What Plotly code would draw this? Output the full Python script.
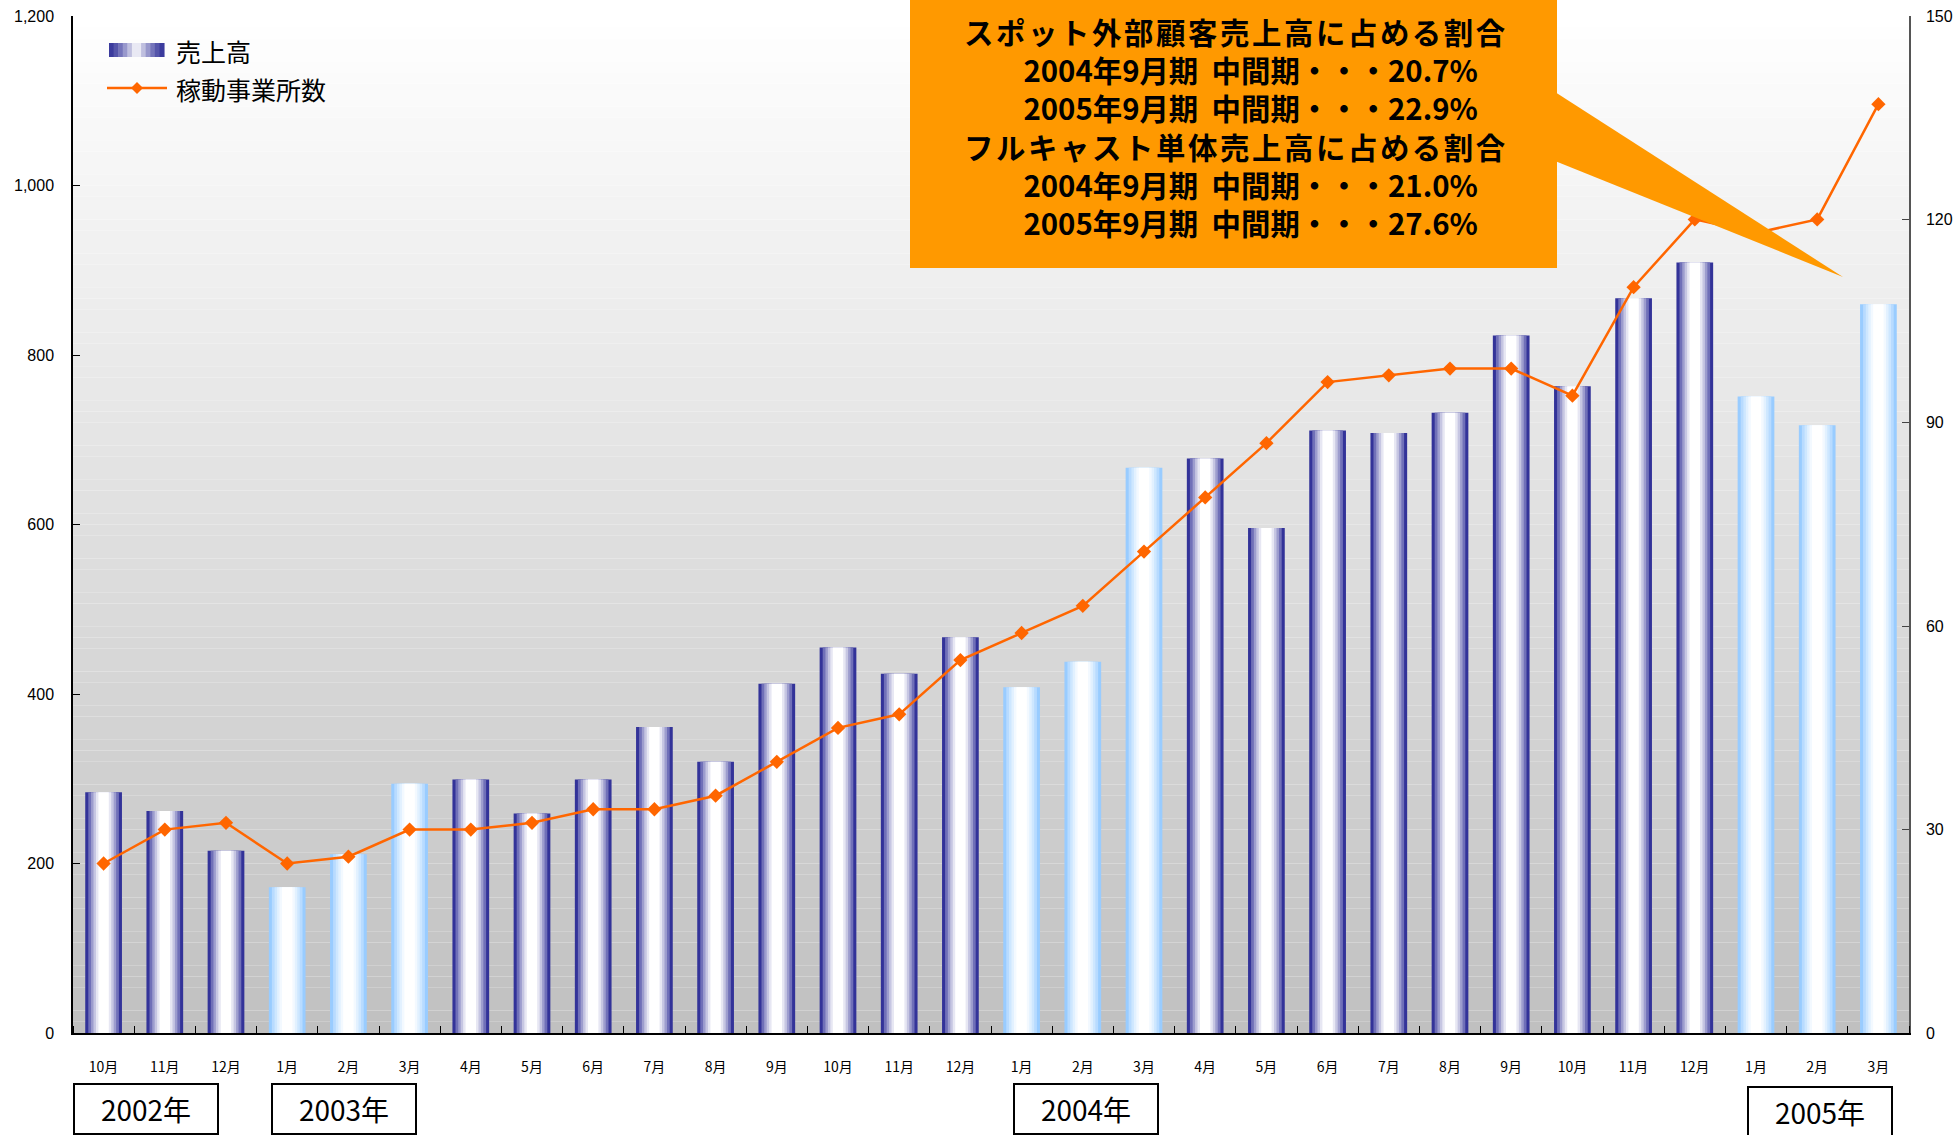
import plotly.graph_objects as go

# ---------------- data ----------------
months = ["10月", "11月", "12月", "1月", "2月", "3月", "4月", "5月", "6月", "7月",
          "8月", "9月", "10月", "11月", "12月", "1月", "2月", "3月", "4月", "5月",
          "6月", "7月", "8月", "9月", "10月", "11月", "12月", "1月", "2月", "3月"]
sales = [284, 262, 215, 172, 211, 294, 299, 259, 299, 361,
         320, 412, 455, 424, 467, 408, 438, 667, 678, 596,
         711, 708, 732, 823, 763, 867, 909, 751, 717, 860]
offices = [25, 30, 31, 25, 26, 30, 30, 31, 33, 33,
           35, 40, 45, 47, 55, 59, 63, 71, 79, 87,
           96, 97, 98, 98, 94, 110, 120, 118, 120, 137]
# quarter style of each bar: "d" = dark blue gradient, "l" = light blue gradient
bar_kind = ["d", "d", "d", "l", "l", "l", "d", "d", "d", "d",
            "d", "d", "d", "d", "d", "l", "l", "l", "d", "d",
            "d", "d", "d", "d", "d", "d", "d", "l", "l", "l"]
years = ["2002年", "2003年", "2004年", "2005年"]
callout_heads = ["スポット外部顧客売上高に占める割合", "フルキャスト単体売上高に占める割合"]
callout_rows = [["2004年9月期\u00a0\u00a0中間期・・・20.7%", "2005年9月期\u00a0\u00a0中間期・・・22.9%"],
                ["2004年9月期\u00a0\u00a0中間期・・・21.0%", "2005年9月期\u00a0\u00a0中間期・・・27.6%"]]
series_names = ["売上高", "稼動事業所数"]

# ---------------- layout geometry (pixels) ----------------
W, H = 1953, 1135
L, R, T, B = 73, 1909, 16, 1033


def PX(x):
    return (x - L) / (R - L)


def PY(y):
    return (B - y) / (B - T)


def mix(c1, c2, t):
    a = [int(c1[i:i + 2], 16) for i in (1, 3, 5)]
    b = [int(c2[i:i + 2], 16) for i in (1, 3, 5)]
    return "rgb(%d,%d,%d)" % tuple(round(a[k] + (b[k] - a[k]) * t) for k in range(3))


EDGE = {"d": "#333399", "l": "#99ccff"}
WHITE = "#ffffff"
CJK = "Noto Sans CJK JP"
ARIAL = "Liberation Sans, Arial"

xs = list(range(len(months)))
fig = go.Figure()

# bars: stacked layers of narrowing width to imitate the cylinder gradient
layers = [(0.60, 0.0), (0.50, 0.30), (0.41, 0.52), (0.33, 0.72), (0.25, 0.88), (0.17, 1.0)]
for w, t in layers:
    fig.add_trace(go.Bar(
        x=xs, y=sales, width=w, yaxis="y",
        marker=dict(color=[mix(EDGE[k], WHITE, t) for k in bar_kind], line=dict(width=0)),
        showlegend=False, name=series_names[0], hoverinfo="y"))

fig.add_trace(go.Scatter(
    x=xs, y=offices, yaxis="y2", mode="lines+markers", name=series_names[1],
    line=dict(color="#ff6600", width=2.5),
    marker=dict(symbol="diamond", size=11, color="#ff6600"),
    showlegend=False))

shapes = []
# plot-area vertical gradient background
n = 90
for k in range(n):
    t = (k + 0.5) / n
    shapes.append(dict(type="rect", xref="paper", yref="paper", x0=0, x1=1,
                       y0=k / n, y1=(k + 1) / n, layer="below", line=dict(width=0),
                       fillcolor=mix("#c0c0c0", "#ffffff", t)))

# legend swatch for bars
sw_x0, sw_x1, sw_y0, sw_y1 = 109, 164, 43, 57
ns = 12
for k in range(ns):
    xa = sw_x0 + (sw_x1 - sw_x0) * k / ns
    xb = sw_x0 + (sw_x1 - sw_x0) * (k + 1) / ns
    c = (k + 0.5) / ns
    t = 1 - abs(c - 0.5) * 2
    shapes.append(dict(type="rect", xref="paper", yref="paper",
                       x0=PX(xa), x1=PX(xb) + 0.0003, y0=PY(sw_y1), y1=PY(sw_y0),
                       line=dict(width=0), fillcolor=mix("#333399", WHITE, t ** 1.3)))
# legend line + diamond
shapes.append(dict(type="line", xref="paper", yref="paper", x0=PX(107), x1=PX(167),
                   y0=PY(88), y1=PY(88), line=dict(color="#ff6600", width=2.5)))
shapes.append(dict(type="path", xref="paper", yref="paper",
                   path="M %f,%f L %f,%f L %f,%f L %f,%f Z" % (
                       PX(131), PY(88), PX(137), PY(82), PX(143), PY(88), PX(137), PY(94)),
                   fillcolor="#ff6600", line=dict(width=0)))

# callout box and pointer
shapes.append(dict(type="rect", xref="paper", yref="paper", x0=PX(910), x1=PX(1557),
                   y0=PY(268), y1=PY(0), fillcolor="#ff9900", line=dict(width=0)))
shapes.append(dict(type="path", xref="paper", yref="paper",
                   path="M %f,%f L %f,%f L %f,%f Z" % (
                       PX(1555), PY(92), PX(1843), PY(277), PX(1555), PY(161)),
                   fillcolor="#ff9900", line=dict(width=0)))

annotations = []
annotations.append(dict(xref="paper", yref="paper", x=PX(174), y=PY(51), text=series_names[0],
                        showarrow=False, xanchor="left", yanchor="middle",
                        font=dict(family=CJK, size=25, color="black")))
annotations.append(dict(xref="paper", yref="paper", x=PX(174), y=PY(89), text=series_names[1],
                        showarrow=False, xanchor="left", yanchor="middle",
                        font=dict(family=CJK, size=25, color="black")))

# callout text: one multi-line annotation
parts = []
for head, rows in zip(callout_heads, callout_rows):
    parts.append("<span style='letter-spacing:2.6px'>%s</span>" % head)
    for r in rows:
        parts.append("\u3000" + r)
callout_text = "<b>" + "<br>".join(parts) + "</b>"
annotations.append(dict(xref="paper", yref="paper", x=PX(1236), y=PY(126), text=callout_text,
                        showarrow=False, xanchor="center", yanchor="middle", align="center",
                        font=dict(family=CJK, size=29.4, color="black")))

year_x = [146, 343.5, 1086, 1820]
year_top = [1083, 1083, 1083, 1086]
for txt, yx, yt in zip(years, year_x, year_top):
    annotations.append(dict(xref="paper", yref="paper", x=PX(yx), y=PY(yt), text=txt,
                            showarrow=False, xanchor="center", yanchor="top",
                            width=142, height=48, borderpad=0, bordercolor="black", borderwidth=2,
                            font=dict(family=CJK, size=28, color="black")))

fig.update_layout(
    template="none",
    width=W, height=H,
    margin=dict(l=L, r=W - R, t=T, b=H - B, pad=0, autoexpand=False),
    paper_bgcolor="white", plot_bgcolor="rgba(0,0,0,0)",
    barmode="overlay",
    showlegend=False,
    xaxis=dict(range=[-0.5, len(months) - 0.5], tickmode="array", tickvals=xs, ticktext=months,
               ticks="", showgrid=False, zeroline=False, automargin=False,
               showline=True, linecolor="black", linewidth=1.5,
               tickfont=dict(family=CJK, size=14, color="black"), ticklabelstandoff=20,
               minor=dict(tickmode="linear", tick0=-0.5, dtick=1, ticks="inside", ticklen=7,
                          tickcolor="black", tickwidth=1, showgrid=False)),
    yaxis=dict(range=[0, 1200], dtick=200, tickformat=",d", ticks="inside", ticklen=7,
               tickcolor="black", showline=True, linecolor="black", linewidth=1.5,
               showgrid=False, zeroline=False, automargin=False,
               tickfont=dict(family=ARIAL, size=16, color="black"), ticklabelstandoff=14),
    yaxis2=dict(range=[0, 150], dtick=30, overlaying="y", side="right", ticks="inside",
                ticklen=7, tickcolor="#444444", showline=True, linecolor="#555555", linewidth=1.5,
                showgrid=False, zeroline=False, automargin=False,
                tickfont=dict(family=ARIAL, size=16, color="black"), ticklabelstandoff=12),
    shapes=shapes, annotations=annotations,
)

fig.write_html("out.html", config={"displayModeBar": False},
               post_script="document.body.style.margin='0';document.body.style.overflow='hidden';")
